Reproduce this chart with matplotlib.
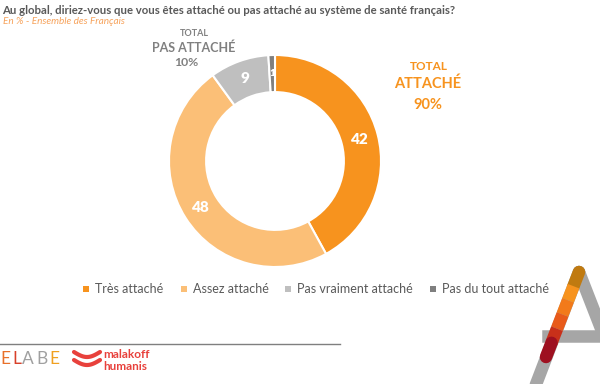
import matplotlib
matplotlib.use("Agg")
import matplotlib.pyplot as plt
from matplotlib.lines import Line2D
from matplotlib.patches import Rectangle
import numpy as np

categories = ["Très attaché", "Assez attaché", "Pas vraiment attaché", "Pas du tout attaché"]
values = [42, 48, 9, 1]
colors = ["#F7931E", "#FBBF77", "#BFBFBF", "#7F7F7F"]

plt.rcParams['font.family'] = ['Lato', 'DejaVu Sans']

W, H = 600, 384
fig = plt.figure(figsize=(6, 3.84), dpi=100)
fig.patch.set_facecolor("white")

def fx(x): return np.asarray(x) / W
def fy(y): return 1 - np.asarray(y) / H

# Title
fig.text(fx(2), fy(10), "Au global, diriez-vous que vous êtes attaché ou pas attaché au système de santé français?",
         fontsize=8.2, fontweight="bold", color="#595959", va="center", ha="left")
fig.text(fx(3), fy(21), "En % - Ensemble des Français", fontsize=7.2, style="italic",
         color="#F7A35C", va="center", ha="left")

# Donut
cx, cy, r = 275, 161, 106
ax = fig.add_axes([fx(cx - r), fy(cy + r), 2 * r / W, 2 * r / H])
wedges, _ = ax.pie(values, colors=colors, startangle=90, counterclock=False,
                   wedgeprops=dict(width=0.35, edgecolor="white", linewidth=1.5))
ax.set_aspect("equal")
ax.set_xlim(-1, 1)
ax.set_ylim(-1, 1)

cum = 0
total = sum(values)
for v, w in zip(values, wedges):
    mid = 90 - 360 * (cum + v / 2) / total
    cum += v
    rr = 0.825
    x = rr * np.cos(np.radians(mid))
    y = rr * np.sin(np.radians(mid))
    fs = 11 if v > 5 else 7
    ax.text(x, y, str(v), ha="center", va="center", color="white",
            fontsize=fs, fontweight="heavy")

# Totals
grey_t = "#808080"
fig.text(fx(194), fy(33), "TOTAL", fontsize=6.5, fontweight="bold", color=grey_t, ha="center", va="center")
fig.text(fx(194), fy(48), "PAS ATTACHÉ", fontsize=9, fontweight="bold", color=grey_t, ha="center", va="center")
fig.text(fx(186), fy(63), "10%", fontsize=8.8, fontweight="bold", color=grey_t, ha="center", va="center")

fig.text(fx(429), fy(66), "TOTAL", fontsize=8.5, fontweight="bold", color="#F7931E", ha="center", va="center")
fig.text(fx(428), fy(84), "ATTACHÉ", fontsize=10.5, fontweight="bold", color="#F7931E", ha="center", va="center")
fig.text(fx(428), fy(105), "90%", fontsize=10.5, fontweight="bold", color="#F7931E", ha="center", va="center")

# Legend
leg_marker_x = [86, 184, 288, 433]
for lx, lab, c in zip(leg_marker_x, categories, colors):
    fig.patches.append(Rectangle((fx(lx - 3), fy(292)), 6 / W, 6 / H, transform=fig.transFigure,
                                 facecolor=c, edgecolor="none"))
    fig.text(fx(lx + 9), fy(289), lab, fontsize=9, color="#595959", ha="left", va="center")

# Footer line
fig.add_artist(Line2D([fx(0), fx(340)], [fy(344), fy(344)], color="#7F7F7F", linewidth=1,
                      transform=fig.transFigure))

# ELABE logo text
elabe_cols = ["#E8702A", "#D8402A", "#A0A0A0", "#A0A0A0", "#F0A020"]
ex = [0, 12, 22, 36, 49]
for ch, c, x0 in zip("ELABE", elabe_cols, ex):
    fig.text(fx(x0), fy(359), ch, fontsize=12.5, color=c, ha="left", va="center", fontweight="normal")

# malakoff humanis
fig.text(fx(103), fy(354), "malakoff", fontsize=8.5, color="#E8413C", ha="left", va="center", fontweight="bold")
fig.text(fx(103), fy(366), "humanis", fontsize=8.5, color="#E8413C", ha="left", va="center", fontweight="bold")
t = np.linspace(0, 1, 30)
for dy in (0, 8):
    xs = 74 + 26 * t
    ys = 352 + dy + 5 * np.sin(np.pi * t)
    fig.add_artist(Line2D(fx(xs), fy(ys), color="#E8413C", linewidth=3, transform=fig.transFigure,
                          solid_capstyle="round"))

# A logo on right
lw = 9
fig.add_artist(Line2D([fx(579), fx(530)], [fy(272), fy(400)], color="#A6A6A6", linewidth=lw,
                      transform=fig.transFigure, solid_capstyle="round"))
fig.add_artist(Line2D([fx(579), fx(618)], [fy(272), fy(372)], color="#A6A6A6", linewidth=lw,
                      transform=fig.transFigure, solid_capstyle="round"))
fig.add_artist(Line2D([fx(548), fx(600)], [fy(336), fy(336)], color="#A6A6A6", linewidth=lw,
                      transform=fig.transFigure))
seg_cols = ["#C07A10", "#F7931E", "#F27A1A", "#E85A1A", "#C8301A", "#9E1020"]
p0 = np.array([579, 272]); p1 = np.array([546, 357])
n = len(seg_cols)
for i, c in enumerate(seg_cols):
    a = p0 + (p1 - p0) * i / n
    b = p0 + (p1 - p0) * (i + 1) / n
    fig.add_artist(Line2D([fx(a[0]), fx(b[0])], [fy(a[1]), fy(b[1])], color=c, linewidth=lw,
                          transform=fig.transFigure,
                          solid_capstyle="round" if i in (0, n - 1) else "butt"))

fig.savefig("out.png", dpi=100, facecolor="white")
